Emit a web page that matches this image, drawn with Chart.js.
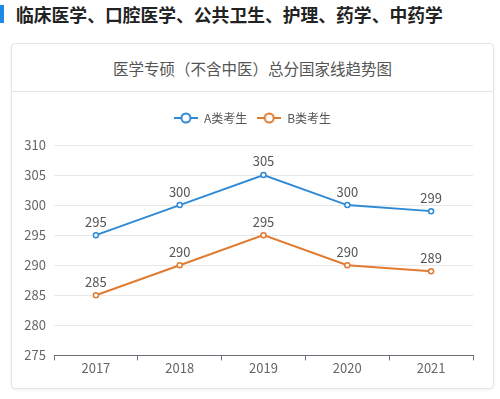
<!DOCTYPE html>
<html>
<head>
<meta charset="utf-8">
<script src="https://cdn.jsdelivr.net/npm/chart.js@4"></script>
<style>
  html, body { margin: 0; padding: 0; background: #fff; }
  body { width: 500px; height: 399px; position: relative; overflow: hidden; font-family: "Noto Sans CJK SC", sans-serif; }
  #bar { position: absolute; left: 0; top: 5px; width: 4px; height: 18px; background: #1e88e5; }
  #head { position: absolute; left: 16px; top: 0; line-height: 28px; font-size: 17.8px; font-weight: bold; color: #222; white-space: nowrap; }
  #card { position: absolute; left: 11px; top: 43px; width: 481px; height: 344px; border: 1px solid #e4e4e4; border-radius: 4px; box-shadow: 0 1px 3px rgba(0,0,0,0.06); }
  #ctitle { height: 47px; line-height: 48px; text-align: center; font-size: 15.5px; color: #555; border-bottom: 1px solid #e4e4e4; }
  #wrap { position: absolute; left: 0; top: 48px; width: 481px; height: 296px; }
</style>
</head>
<body>
<div id="bar"></div>
<div id="head">临床医学、口腔医学、公共卫生、护理、药学、中药学</div>
<div id="card">
  <div id="ctitle">医学专硕（不含中医）总分国家线趋势图</div>
  <div id="wrap"><canvas id="canvas"></canvas></div>
</div>
<script>
var years = ['2017', '2018', '2019', '2020', '2021'];
var seriesA = [295, 300, 305, 300, 299];
var seriesB = [285, 290, 295, 290, 289];
var seriesNames = ['A类考生', 'B类考生'];
var colorA = '#2e8ad6';
var colorB = '#e07b30';
var fontFam = '"Noto Sans CJK SC", sans-serif';

// legend icon: short line with a hollow circle in the middle
function legendIcon(color) {
    var c = document.createElement('canvas');
    c.width = 24; c.height = 14;
    var g = c.getContext('2d');
    g.strokeStyle = color;
    g.lineWidth = 2;
    g.beginPath(); g.moveTo(0, 7); g.lineTo(24, 7); g.stroke();
    g.fillStyle = '#fff';
    g.beginPath(); g.arc(12, 7, 4.5, 0, Math.PI * 2); g.fill(); g.stroke();
    return c;
}

var valueLabels = {
    id: 'valueLabels',
    afterInit: function(chart) {
        // leave extra room under the legend
        var fit = chart.legend.fit;
        chart.legend.fit = function() {
            fit.call(this);
            this.height += 11;
        };
    },
    afterLayout: function(chart) {
        // center legend over the whole card, not only the padded area
        chart.legend.left += 10;
        chart.legend.right += 10;
    },
    afterDatasetsDraw: function(chart) {
        var ctx = chart.ctx;
        ctx.save();
        ctx.font = '13px ' + fontFam;
        ctx.fillStyle = '#555';
        ctx.textAlign = 'center';
        ctx.textBaseline = 'bottom';
        chart.data.datasets.forEach(function(ds, i) {
            chart.getDatasetMeta(i).data.forEach(function(pt, j) {
                ctx.fillText(ds.data[j], pt.x, pt.y - 7);
            });
        });
        ctx.restore();
    }
};

var ctx = document.getElementById('canvas');
var myChart = new Chart(ctx, {
    type: 'line',
    data: {
        labels: years,
        datasets: [{
            label: seriesNames[0],
            data: seriesA,
            borderColor: colorA,
            backgroundColor: '#fff',
            borderWidth: 2,
            pointRadius: 2.5,
            pointBorderWidth: 1.5,
            pointBackgroundColor: '#fff',
            pointStyle: 'circle',
            tension: 0
        }, {
            label: seriesNames[1],
            data: seriesB,
            borderColor: colorB,
            backgroundColor: '#fff',
            borderWidth: 2,
            pointRadius: 2.5,
            pointBorderWidth: 1.5,
            pointBackgroundColor: '#fff',
            pointStyle: 'circle',
            tension: 0
        }]
    },
    options: {
        responsive: true,
        maintainAspectRatio: false,
        animation: false,
        layout: { padding: { left: 0, right: 20, top: 10, bottom: 12 } },
        plugins: {
            legend: {
                labels: {
                    usePointStyle: true,
                    pointStyleWidth: 24,
                    generateLabels: function(chart) {
                        return chart.data.datasets.map(function(ds, i) {
                            return {
                                text: ds.label,
                                pointStyle: legendIcon(ds.borderColor),
                                fillStyle: '#fff',
                                strokeStyle: ds.borderColor,
                                lineWidth: 0,
                                fontColor: '#555',
                                datasetIndex: i
                            };
                        });
                    },
                    color: '#555',
                    font: { size: 12, family: fontFam },
                    padding: 10
                }
            },
            tooltip: { enabled: false }
        },
        scales: {
            x: {
                offset: true,
                grid: { offset: true, drawOnChartArea: false, drawTicks: true, tickLength: 5, color: '#6e7079' },
                border: { color: '#6e7079', width: 1 },
                ticks: { color: '#666', font: { size: 13, family: fontFam }, padding: 0 }
            },
            y: {
                min: 275,
                max: 310,
                afterFit: function(s) { s.width = 42; },
                ticks: { stepSize: 5, color: '#666', font: { size: 13, family: fontFam }, padding: 8 },
                grid: { color: '#e8e8e8', drawTicks: false },
                border: { display: false }
            }
        }
    },
    plugins: [valueLabels]
});
</script>
</body>
</html>
